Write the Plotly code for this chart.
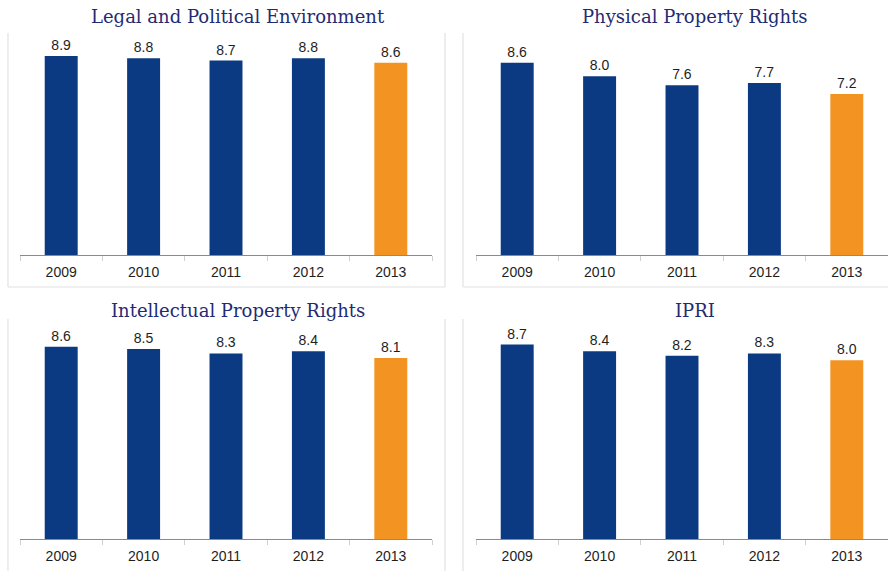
import plotly.graph_objects as go

W, H = 888, 571

years = ["2009", "2010", "2011", "2012", "2013"]
legal_political = [8.9, 8.8, 8.7, 8.8, 8.6]
physical_property = [8.6, 8.0, 7.6, 7.7, 7.2]
intellectual_property = [8.6, 8.5, 8.3, 8.4, 8.1]
ipri = [8.7, 8.4, 8.2, 8.3, 8.0]

titles = [
    "Legal and Political Environment",
    "Physical Property Rights",
    "Intellectual Property Rights",
    "IPRI",
]
series = [legal_political, physical_property, intellectual_property, ipri]

NAVY = "#0b3a82"
ORANGE = "#f29322"
bar_colors = [NAVY, NAVY, NAVY, NAVY, ORANGE]


def px_x(p):
    return p / W


def px_y(p):
    return 1 - p / H


# panel layout in pixels: (x0, x1) of the axis, (top, baseline) of the plot area
x_spans = [(20, 432), (476, 888)]
y_spans = [(31.5, 255), (315.5, 539)]

fig = go.Figure()
shapes = []
annotations = []

for i, (title, vals) in enumerate(zip(titles, series)):
    row, col = divmod(i, 2)
    xa = "x" if i == 0 else f"x{i + 1}"
    ya = "y" if i == 0 else f"y{i + 1}"
    fig.add_trace(go.Bar(
        x=years, y=vals, xaxis=xa, yaxis=ya,
        marker=dict(color=bar_colors, line=dict(width=0)),
        text=vals, texttemplate="%{y:.1f}", textposition="outside",
        textfont=dict(family="Liberation Sans, Arial, sans-serif", size=14, color="#1e1e1e"),
        cliponaxis=False, hoverinfo="x+y", showlegend=False,
    ))
    x0, x1 = x_spans[col]
    top, base = y_spans[row]
    xkey = "xaxis" if i == 0 else f"xaxis{i + 1}"
    ykey = "yaxis" if i == 0 else f"yaxis{i + 1}"
    fig.layout[xkey] = dict(
        domain=[px_x(x0), px_x(x1)], anchor=ya, type="category",
        showline=True, linecolor="#8a8a8a", linewidth=1,
        ticks="outside", tickson="boundaries", ticklen=5, tickcolor="#d0d0d0",
        ticklabelstandoff=4,
        tickfont=dict(family="Liberation Sans, Arial, sans-serif", size=14, color="#1e1e1e"),
        showgrid=False, zeroline=False, fixedrange=True,
    )
    fig.layout[ykey] = dict(
        domain=[px_y(base), px_y(top)], anchor=xa, range=[0, 10],
        visible=False, showgrid=False, zeroline=False, fixedrange=True,
    )
    # panel title
    tx = 238 if col == 0 else 695
    ty = 17 if row == 0 else 310
    annotations.append(dict(
        x=px_x(tx), y=px_y(ty), xref="paper", yref="paper",
        xanchor="center", yanchor="middle", showarrow=False,
        text=title,
        font=dict(family="DejaVu Serif, serif", size=18, color="#1f2b73"),
    ))

# light frames around each panel
FRAME = "#e2e2e2"
frames = [
    (8, 445, 33, 287),
    (463, 905, 33, 287),
    (8, 445, 319, 590),
    (463, 905, 319, 590),
]
for fx0, fx1, fy0, fy1 in frames:
    for (ax0, ay0, ax1, ay1) in [
        (fx0, fy0, fx0, fy1),
        (fx1, fy0, fx1, fy1),
        (fx0, fy1, fx1, fy1),
    ]:
        shapes.append(dict(
            type="line", xref="paper", yref="paper",
            x0=px_x(ax0), y0=px_y(ay0), x1=px_x(ax1), y1=px_y(ay1),
            line=dict(color=FRAME, width=1.2), layer="below",
        ))

fig.update_layout(
    width=W, height=H,
    margin=dict(l=0, r=0, t=0, b=0),
    paper_bgcolor="white", plot_bgcolor="white",
    bargap=0.6,
    shapes=shapes, annotations=annotations,
    showlegend=False,
)

fig.write_html("out.html", config={"displayModeBar": False})
